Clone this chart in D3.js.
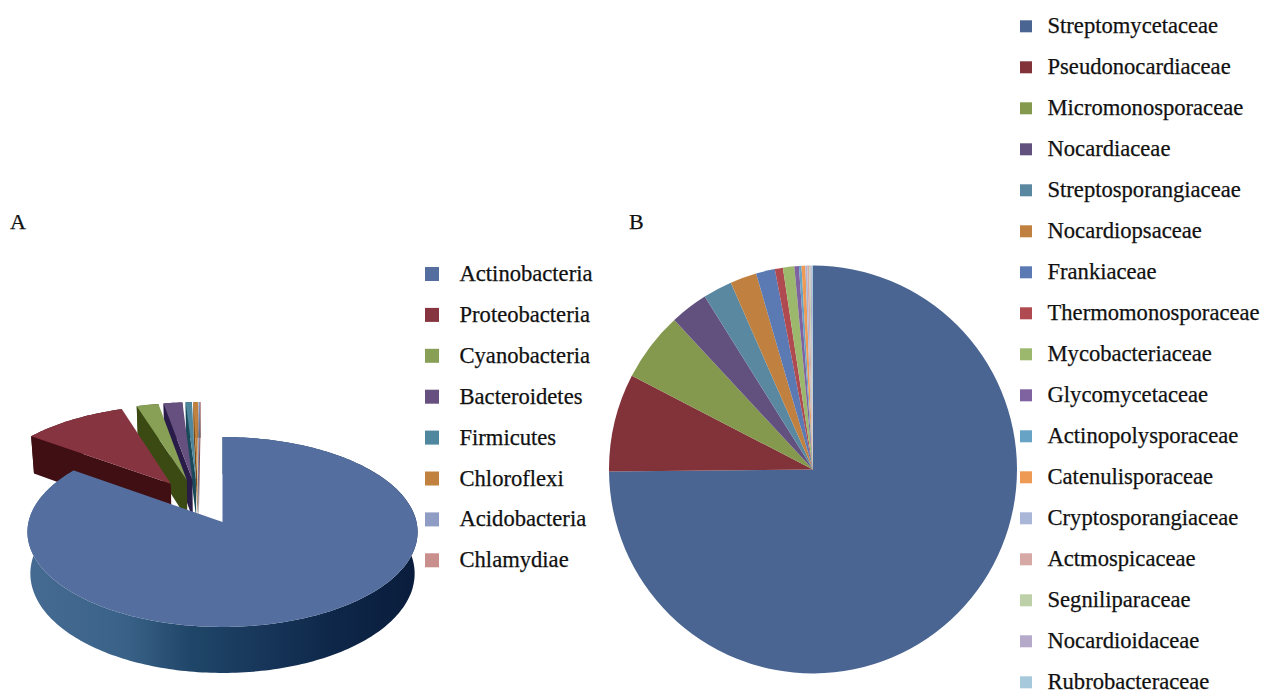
<!DOCTYPE html>
<html>
<head>
<meta charset="utf-8">
<script src="https://cdn.jsdelivr.net/npm/d3@7/dist/d3.min.js"></script>
<style>
  html, body { margin: 0; padding: 0; background: #fff; }
  svg { display: block; }
  text { font-family: "Liberation Serif", "Times New Roman", serif; fill: #111; stroke: #111; stroke-width: 0.25px; }
</style>
</head>
<body>
<svg id="chart" width="1261" height="693"></svg>
<script>
// Phylum shares (percent of sequences), panel A
const phyla = ["Actinobacteria", "Proteobacteria", "Cyanobacteria", "Bacteroidetes",
  "Firmicutes", "Chloroflexi", "Acidobacteria", "Chlamydiae"];
const phylaShare = [84.9, 10.0, 2.1, 1.8, 0.6, 0.45, 0.1, 0.05];
const phylaColors = ["#546f9f", "#86343f", "#87a055", "#66507f", "#4f879f", "#c2823f", "#8f9cc4", "#c98f8d"];
const phylaWalls = ["#1d3f63", "#3f0f14", "#3a4a12", "#2a1c48", "#1a4a5a", "#7a4a14", "#4f5c84", "#89504e"];

// Family shares (percent of actinobacterial sequences), panel B
const families = ["Streptomycetaceae", "Pseudonocardiaceae", "Micromonosporaceae", "Nocardiaceae",
  "Streptosporangiaceae", "Nocardiopsaceae", "Frankiaceae", "Thermomonosporaceae", "Mycobacteriaceae",
  "Glycomycetaceae", "Actinopolysporaceae", "Catenulisporaceae", "Cryptosporangiaceae", "Actmospicaceae",
  "Segniliparaceae", "Nocardioidaceae", "Rubrobacteraceae"];
const familyShare = [74.85, 7.75, 5.5, 3.0, 2.3, 2.1, 1.5, 0.64, 0.9, 0.36, 0.2, 0.3, 0.15, 0.15, 0.1, 0.1, 0.1];
const familyColors = ["#4a6592", "#823239", "#84994e", "#62507f", "#5a88a1", "#c0803f", "#5b79b3", "#ae4a50",
  "#9bb86d", "#7f63a0", "#66a3c4", "#ef9a54", "#a9b6d8", "#d6a8a6", "#bdd0a8", "#b6aacb", "#a6c9dc"];

const svg = d3.select("#chart");

// Panel letters
svg.append("text").attr("x", 10).attr("y", 229).attr("font-size", 22).text("A");
svg.append("text").attr("x", 629).attr("y", 229).attr("font-size", 22).text("B");

// ---- Panel B: flat pie ----
const pieFlat = d3.pie().sort(null).value(d => d)(familyShare);
const arcFlat = d3.arc().innerRadius(0).outerRadius(204);
svg.append("g").attr("transform", "translate(813,469.5)")
  .selectAll("path").data(pieFlat).join("path")
  .attr("d", arcFlat)
  .attr("fill", (d, i) => familyColors[i]);

// ---- Panel A: exploded 3D pie under a perspective projection ----
const view = { x: 222.5, y: 522, r: 194, a: 93.9, persp: 0.105, depth: 41.2, taper: 0.985 };
const explode = 0.25;
const origin = { x: -0.13, y: 0.225 }; // pie axis relative to the largest wedge's apex

function project(x, y, lower) {
  const w = 1 + view.persp * y;
  const taper = lower ? view.taper : 1;
  return [
    view.x + view.r * x * taper / w,
    view.y - view.a * y / w + (lower ? view.depth / w : 0)
  ];
}

const wedges = d3.pie().sort(null).value(d => d)(phylaShare).map((d, i) => {
  const mid = (d.startAngle + d.endAngle) / 2;
  // The largest wedge stays anchored at the projection centre
  const cx = i === 0 ? 0 : origin.x + explode * Math.sin(mid);
  const cy = i === 0 ? 0 : origin.y + explode * Math.cos(mid);
  return { ...d, i, cx, cy };
});

const rimPoint = (w, t) => [w.cx + Math.sin(t), w.cy + Math.cos(t)];
const arcAngles = w => {
  const n = Math.max(2, Math.ceil((w.endAngle - w.startAngle) / 0.02));
  return d3.range(n + 1).map(k => w.startAngle + (w.endAngle - w.startAngle) * k / n);
};
const line = d3.line().curve(d3.curveLinear);

// Side shading for the large wedge, lit from the left
const defs = svg.append("defs");
const grad = defs.append("linearGradient").attr("id", "rimShade")
  .attr("gradientUnits", "userSpaceOnUse")
  .attr("x1", 28).attr("x2", 418).attr("y1", 0).attr("y2", 0);
[[0, "#466b93"], [0.25, "#3a6288"], [0.42, "#1f4668"], [0.6, "#17365a"], [0.78, "#0e2749"], [1, "#0a1c3c"]]
  .forEach(([o, c]) => grad.append("stop").attr("offset", o).attr("stop-color", c));

const pieA = svg.append("g");
// Painter's order: far wedges first, the large wedge last
wedges.slice().reverse().forEach(w => {
  const g = pieA.append("g");
  const angles = arcAngles(w);
  const apexTop = project(w.cx, w.cy, false);
  const apexLow = project(w.cx, w.cy, true);
  const wall = w.i === 0 ? "url(#rimShade)" : phylaWalls[w.i];

  // Outer rim wall
  const rimTop = angles.map(t => project(...rimPoint(w, t), false));
  const rimLow = angles.map(t => project(...rimPoint(w, t), true));
  g.append("path").attr("d", line(rimTop.concat(rimLow.slice().reverse())) + "Z").attr("fill", wall);

  // Radial wall on the leading edge, which faces the viewer
  const first = rimPoint(w, w.startAngle);
  g.append("path")
    .attr("d", line([apexTop, project(...first, false), project(...first, true), apexLow]) + "Z")
    .attr("fill", w.i === 0 ? phylaWalls[0] : wall);

  // Top face
  g.append("path")
    .attr("d", line([apexTop].concat(rimTop)) + "Z")
    .attr("fill", phylaColors[w.i]);
});

// ---- Legends ----
function legend(names, colors, opts) {
  const y = d3.scalePoint().domain(names).range([opts.y0, opts.y0 + opts.step * (names.length - 1)]);
  const g = svg.append("g").selectAll("g").data(names).join("g")
    .attr("transform", d => `translate(0,${y(d)})`);
  g.append("rect")
    .attr("x", opts.markX).attr("y", -opts.size / 2)
    .attr("width", opts.size).attr("height", opts.size)
    .attr("fill", (d, i) => colors[i]);
  g.append("text")
    .attr("x", opts.textX).attr("y", 7)
    .attr("font-size", opts.font)
    .text(d => d);
}
legend(phyla, phylaColors, { y0: 274, step: 40.9, markX: 425, size: 14, textX: 459.5, font: 22.6 });
legend(families, familyColors, { y0: 26.3, step: 41, markX: 1020, size: 12, textX: 1047.5, font: 22.6 });
</script>
</body>
</html>
